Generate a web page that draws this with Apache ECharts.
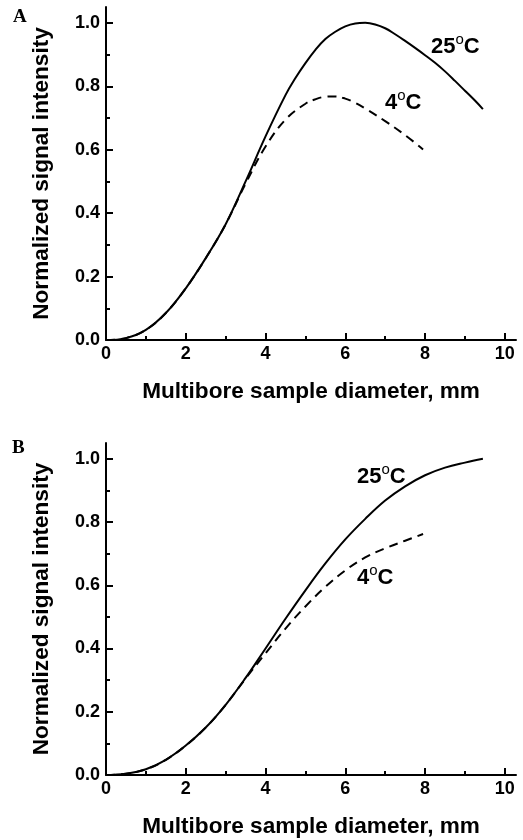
<!DOCTYPE html>
<html>
<head>
<meta charset="utf-8">
<script src="https://cdn.jsdelivr.net/npm/echarts@6/dist/echarts.min.js"></script>
<style>html,body{margin:0;padding:0;background:#fff}#c{width:523px;height:840px}</style>
</head>
<body>
<div id="c"></div>
<script>
// Panel A
const xA25 = [0, 0.5, 1.0, 1.5, 2.0, 2.5, 3.0, 3.5, 4.0, 4.5, 4.75, 5.0, 5.25, 5.5, 5.75, 6.0, 6.25, 6.5, 6.75, 7.0, 7.25, 7.5, 7.75, 8.0, 8.25, 8.5, 8.75, 9.0, 9.25, 9.45];
const yA25 = [0, 0.006, 0.032, 0.085, 0.163, 0.258, 0.365, 0.5, 0.642, 0.772, 0.826, 0.873, 0.915, 0.949, 0.972, 0.989, 0.998, 1.0, 0.995, 0.983, 0.964, 0.943, 0.921, 0.898, 0.874, 0.847, 0.817, 0.786, 0.755, 0.728];
const xA4 = [0, 0.5, 1.0, 1.5, 2.0, 2.5, 3.0, 3.5, 4.0, 4.5, 5.0, 5.25, 5.5, 5.75, 6.0, 6.25, 6.5, 7.0, 7.5, 7.95];
const yA4 = [0, 0.006, 0.032, 0.085, 0.163, 0.258, 0.365, 0.493, 0.61, 0.695, 0.745, 0.759, 0.767, 0.768, 0.761, 0.748, 0.73, 0.69, 0.646, 0.601];
// Panel B
const xB25 = [0, 0.5, 1.0, 1.5, 2.0, 2.5, 3.0, 3.5, 4.0, 4.5, 5.0, 5.5, 6.0, 6.5, 7.0, 7.5, 8.0, 8.5, 9.0, 9.45];
const yB25 = [0, 0.004, 0.018, 0.048, 0.093, 0.15, 0.222, 0.307, 0.4, 0.494, 0.584, 0.669, 0.745, 0.81, 0.868, 0.913, 0.948, 0.972, 0.988, 1.0];
const xB4 = [0, 0.5, 1.0, 1.5, 2.0, 2.5, 3.0, 3.5, 4.0, 4.5, 5.0, 5.5, 6.0, 6.5, 7.0, 7.5, 7.95];
const yB4 = [0, 0.004, 0.018, 0.048, 0.093, 0.15, 0.222, 0.305, 0.385, 0.463, 0.533, 0.595, 0.647, 0.688, 0.717, 0.741, 0.762];
// Ticks
const xTicks = [0, 2, 4, 6, 8, 10];
const xMinorTicks = [1, 3, 5, 7, 9];
const yTicks = [0, 0.2, 0.4, 0.6, 0.8, 1.0];
const yMinorTicks = [0.1, 0.3, 0.5, 0.7, 0.9];
const xName = 'Multibore sample diameter, mm';
const yName = 'Normalized signal intensity';
const seriesNames = ['25°C', '4°C'];

const FONT = "'Liberation Sans', Arial, sans-serif";
const pairs = (xs, ys) => xs.map((x, i) => [x, ys[i]]);

const grids = [
  {left: 106, top: 7, width: 410, height: 333},
  {left: 106, top: 443, width: 410, height: 332}
];

function xAxes(gi) {
  return [
    {
      type: 'value', gridIndex: gi, min: 0, max: 10.28,
      name: xName, nameLocation: 'middle', nameGap: 40,
      nameTextStyle: {fontFamily: FONT, fontWeight: 'bold', fontSize: 22.6, color: '#000'},
      axisLine: {show: true, onZero: false, lineStyle: {color: '#000', width: 2}},
      axisTick: {show: true, inside: true, length: 7, lineStyle: {color: '#000', width: 2}, customValues: xTicks},
      axisLabel: {show: true, customValues: xTicks, margin: 5, fontFamily: FONT, fontWeight: 'bold', fontSize: 18, color: '#000',
                  formatter: v => String(Math.round(v))},
      splitLine: {show: false}
    },
    {
      type: 'value', gridIndex: gi, min: 0, max: 10.28, position: 'bottom',
      axisLine: {show: false},
      axisTick: {show: true, inside: true, length: 4, lineStyle: {color: '#000', width: 2}, customValues: xMinorTicks},
      axisLabel: {show: false},
      splitLine: {show: false}
    }
  ];
}
function yAxes(gi, max) {
  return [
    {
      type: 'value', gridIndex: gi, min: 0, max: max,
      name: yName, nameLocation: 'middle', nameGap: 53, nameRotate: 90,
      nameTextStyle: {fontFamily: FONT, fontWeight: 'bold', fontSize: 22.6, color: '#000'},
      axisLine: {show: true, onZero: false, lineStyle: {color: '#000', width: 2}},
      axisTick: {show: true, inside: true, length: 7, lineStyle: {color: '#000', width: 2}, customValues: yTicks},
      axisLabel: {show: true, customValues: yTicks, margin: 6, fontFamily: FONT, fontWeight: 'bold', fontSize: 18, color: '#000',
                  formatter: v => v.toFixed(1)},
      splitLine: {show: false}
    },
    {
      type: 'value', gridIndex: gi, min: 0, max: max, position: 'left',
      axisLine: {show: false},
      axisTick: {show: true, inside: true, length: 4, lineStyle: {color: '#000', width: 2}, customValues: yMinorTicks},
      axisLabel: {show: false},
      splitLine: {show: false}
    }
  ];
}

function line(name, data, xi, yi, dashed) {
  return {
    name: name, type: 'line', xAxisIndex: xi, yAxisIndex: yi, data: data,
    showSymbol: false, symbol: 'none', smooth: 0.4, silent: true,
    lineStyle: {color: '#000', width: 2, type: dashed ? [9, 6] : 'solid'},
    z: dashed ? 3 : 2
  };
}

function degLabel(num, x, y) {
  return {
    type: 'text', left: x, top: y,
    style: {
      text: '{n|' + num + '}{s|o}{n|C}',
      rich: {
        n: {fontFamily: FONT, fontWeight: 'bold', fontSize: 22, fill: '#000', lineHeight: 26, verticalAlign: 'bottom'},
        s: {fontFamily: FONT, fontSize: 15, fill: '#000', lineHeight: 26, verticalAlign: 'top'}
      }
    }
  };
}

const chart = echarts.init(document.getElementById('c'), null, {renderer: 'canvas'});
chart.setOption({
  backgroundColor: '#fff',
  animation: false,
  grid: grids,
  xAxis: [...xAxes(0), ...xAxes(1)],
  yAxis: [...yAxes(0, 1.05), ...yAxes(1, 1.05)],
  series: [
    line(seriesNames[0], pairs(xA25, yA25), 0, 0, false),
    line(seriesNames[1], pairs(xA4, yA4), 0, 0, true),
    line(seriesNames[0], pairs(xB25, yB25), 2, 2, false),
    line(seriesNames[1], pairs(xB4, yB4), 2, 2, true)
  ],
  graphic: [
    {type: 'text', left: 13, top: 8, style: {text: 'A', fontFamily: "'Liberation Serif', 'Times New Roman', serif", fontWeight: 'bold', fontSize: 19, fill: '#000'}},
    {type: 'text', left: 12, top: 439, style: {text: 'B', fontFamily: "'Liberation Serif', 'Times New Roman', serif", fontWeight: 'bold', fontSize: 19, fill: '#000'}},
    degLabel('25', 431, 32),
    degLabel('4', 385, 88),
    degLabel('25', 357, 462),
    degLabel('4', 357, 563)
  ]
});
</script>
</body>
</html>
